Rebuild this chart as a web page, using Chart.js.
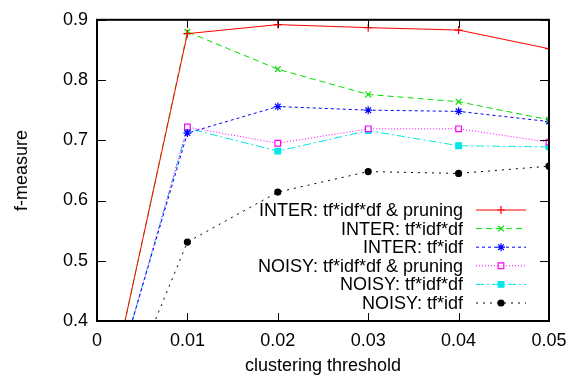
<!DOCTYPE html>
<html>
<head>
<meta charset="utf-8">
<script src="https://cdn.jsdelivr.net/npm/chart.js@4/dist/chart.umd.min.js"></script>
<style>
body { margin: 0; background: #fff; }
#wrap { width: 576px; height: 378px; }
</style>
</head>
<body>
<div id="wrap"><canvas id="myChart" width="576" height="378"></canvas></div>
<script>
// clustering threshold (first point at 0 is below the visible range)
var thresholds = [0, 0.01, 0.02, 0.03, 0.04, 0.05];
var seriesNames = ['INTER: tf*idf*df & pruning', 'INTER: tf*idf*df', 'INTER: tf*idf',
  'NOISY: tf*idf*df & pruning', 'NOISY: tf*idf*df', 'NOISY: tf*idf'];
var interPruning = [0.186, 0.877, 0.892, 0.887, 0.883, 0.852];
var interTfIdfDf = [0.184, 0.880, 0.818, 0.776, 0.764, 0.734];
var interTfIdf   = [0.201, 0.712, 0.756, 0.750, 0.748, 0.731];
var noisyPruning = [0.194, 0.722, 0.695, 0.719, 0.719, 0.697];
var noisyTfIdfDf = [0.195, 0.720, 0.682, 0.716, 0.691, 0.689];
var noisyTfIdf   = [0.167, 0.531, 0.614, 0.648, 0.645, 0.657];
var xTicks = [0, 0.01, 0.02, 0.03, 0.04, 0.05];
var yTicks = [0.4, 0.5, 0.6, 0.7, 0.8, 0.9];

var FONT = '"Liberation Sans", Arial, Helvetica, sans-serif';
var FS = 18;

function pts(vals) {
  return vals.map(function (v, i) { return {x: thresholds[i], y: v}; });
}

var styles = [
  {color: '#ff0000', dash: [], point: 'cross', fill: '#ff0000', r: 4},
  {color: '#00e000', dash: [6, 4], point: 'crossRot', fill: '#00e000', r: 4},
  {color: '#0000ff', dash: [3, 3], point: 'star', fill: '#0000ff', r: 4},
  {color: '#ff00ff', dash: [1, 2], point: 'rect', fill: '#ffffff', r: 4},
  {color: '#00e8e8', dash: [8, 3, 2, 3], point: 'rect', fill: '#00e8e8', r: 4},
  {color: '#000000', dash: [2, 5], point: 'circle', fill: '#000000', r: 3}
];
var allVals = [interPruning, interTfIdfDf, interTfIdf, noisyPruning, noisyTfIdfDf, noisyTfIdf];

var datasets = allVals.map(function (vals, i) {
  var s = styles[i];
  return {
    label: seriesNames[i],
    data: pts(vals),
    borderColor: s.color,
    borderWidth: 1,
    borderDash: s.dash,
    pointStyle: s.point,
    pointRadius: s.r,
    pointBorderColor: s.color,
    pointBackgroundColor: s.fill,
    pointBorderWidth: 1.2,
    tension: 0,
    fill: false
  };
});

// gnuplot style box with inward ticks and a key drawn inside the plot
var boxPlugin = {
  id: 'box',
  afterDatasetsDraw: function (chart) {
    var ctx = chart.ctx, a = chart.chartArea;
    var xs = chart.scales.x, ys = chart.scales.y;
    ctx.save();
    ctx.strokeStyle = '#000';
    ctx.lineWidth = 1;
    ctx.setLineDash([]);
    xTicks.forEach(function (t) {
      var px = Math.round(xs.getPixelForValue(t)) + 0.5;
      ctx.beginPath();
      ctx.moveTo(px, a.bottom); ctx.lineTo(px, a.bottom - 8);
      ctx.moveTo(px, a.top); ctx.lineTo(px, a.top + 8);
      ctx.stroke();
    });
    yTicks.forEach(function (t) {
      var py = Math.round(ys.getPixelForValue(t)) + 0.5;
      ctx.beginPath();
      ctx.moveTo(a.left, py); ctx.lineTo(a.left + 9, py);
      ctx.moveTo(a.right, py); ctx.lineTo(a.right - 9, py);
      ctx.stroke();
    });
    ctx.lineWidth = 2;
    ctx.strokeRect(a.left, a.top, a.right - a.left, a.bottom - a.top);

    // key
    ctx.font = FS + 'px ' + FONT;
    ctx.textAlign = 'right';
    ctx.textBaseline = 'middle';
    chart.data.datasets.forEach(function (ds, i) {
      var y = 210 + i * 18.6;
      ctx.fillStyle = '#000';
      ctx.fillText(ds.label, 463, y + 1);
      ctx.strokeStyle = ds.borderColor;
      ctx.lineWidth = 1;
      ctx.setLineDash(ds.borderDash);
      ctx.beginPath();
      ctx.moveTo(476, y); ctx.lineTo(526, y);
      ctx.stroke();
      ctx.setLineDash([]);
      ctx.fillStyle = ds.pointBackgroundColor;
      ctx.strokeStyle = ds.pointBorderColor;
      ctx.lineWidth = 1.2;
      Chart.helpers.drawPoint(ctx, {
        pointStyle: ds.pointStyle, radius: ds.pointRadius, borderWidth: 1.2
      }, 501, y);
    });
    ctx.restore();
  }
};

var ctx = document.getElementById('myChart');
var myChart = new Chart(ctx, {
  type: 'line',
  data: {datasets: datasets},
  plugins: [boxPlugin],
  options: {
    responsive: false,
    animation: false,
    layout: {padding: {top: 15, right: 27, left: 0, bottom: 0}},
    plugins: {legend: {display: false}, tooltip: {enabled: false}},
    scales: {
      x: {
        type: 'linear', min: 0, max: 0.05,
        afterFit: function (s) { s.height = 57; },
        afterBuildTicks: function (s) { s.ticks = xTicks.map(function (v) { return {value: v}; }); },
        grid: {display: false, drawTicks: false},
        border: {display: false},
        ticks: {
          padding: 9, color: '#000', font: {family: FONT, size: FS},
          callback: function (v) { return String(+v.toFixed(2)); }
        },
        title: {display: true, text: 'clustering threshold', color: '#000',
          font: {family: FONT, size: FS}, padding: {top: 0, bottom: 1}}
      },
      y: {
        min: 0.4, max: 0.9,
        afterFit: function (s) { s.width = 97; },
        afterBuildTicks: function (s) { s.ticks = yTicks.map(function (v) { return {value: v}; }); },
        grid: {display: false, drawTicks: false},
        border: {display: false},
        ticks: {
          padding: 9, color: '#000', font: {family: FONT, size: FS},
          callback: function (v) { return String(+v.toFixed(2)); }
        },
        title: {display: true, text: 'f-measure', color: '#000',
          font: {family: FONT, size: FS}, padding: {top: 11, bottom: 0}}
      }
    }
  }
});
</script>
</body>
</html>
